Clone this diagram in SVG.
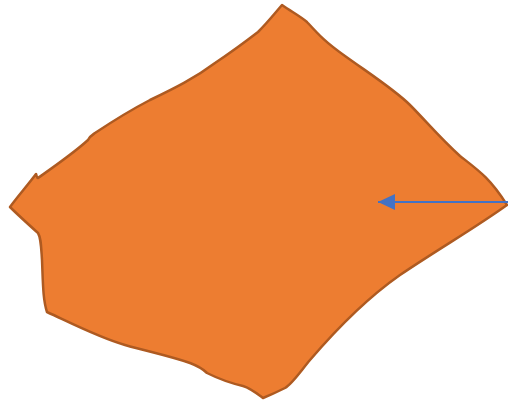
<svg xmlns="http://www.w3.org/2000/svg" width="508" height="404" viewBox="0 0 508 404">
<defs>
<style>
.shape{fill:#ED7D31;stroke:#AE5A21;stroke-width:2.5;stroke-linejoin:round}
.conn{stroke:#4472C4;stroke-width:1.8;fill:none}
</style>
<marker id="ah" viewBox="0 0 10 10" refX="10" refY="5" markerWidth="17" markerHeight="16" markerUnits="userSpaceOnUse" orient="auto" preserveAspectRatio="none">
<path d="M0,0 L10,5 L0,10 Z" fill="#4472C4"/>
</marker>
</defs>
<g id="shape1">
<path class="shape" d="M282,5 C292,12 300,16 307,22 C318,34 325,42 345,56 C370,74 395,90 410,105 C425,120 440,138 460,156 C478,170 490,178 507,205 C475,228 440,248 400,275 C370,296 340,325 310,360 C300,372 292,384 285,388 C275,393 268,396 263,398 C255,392 250,388 243,386 C230,383 215,377 207,373 C202,368 198,366 190,363 C170,356 150,352 125,345 C100,338 75,325 47,312 C43,300 43,285 42,260 C41,245 41,238 38,233 C28,224 18,215 10,207 C18,196 27,186 36,174 C37,177 37,178 38,178 C55,166 75,152 88,140 C90,136 92,135 95,133 C110,123 125,113 150,100 C175,88 195,78 215,63 C230,53 245,42 258,32 C268,22 275,13 282,5 Z"/>
</g>
<g id="connectors">
<line class="conn" x1="508" y1="202" x2="378" y2="202" marker-end="url(#ah)"/>
</g>
</svg>
